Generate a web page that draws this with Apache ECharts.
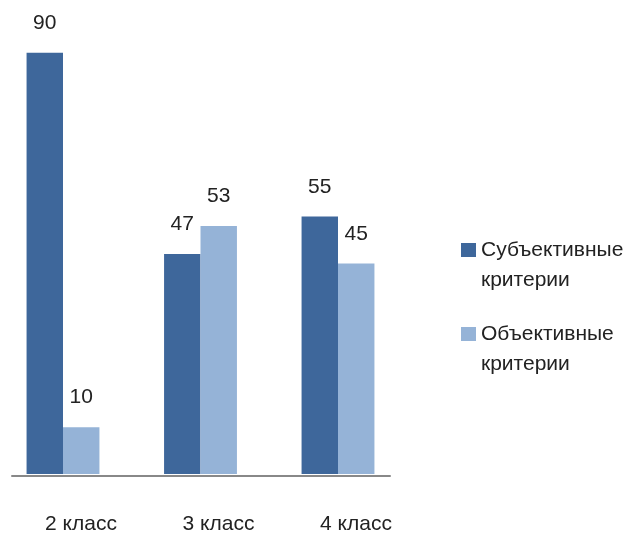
<!DOCTYPE html>
<html><head><meta charset="utf-8">
<script src="https://cdn.jsdelivr.net/npm/echarts@6/dist/echarts.min.js"></script>
<style>html,body{margin:0;padding:0;background:#fff}#c{width:631px;height:535px}</style>
</head><body><div id="c"></div>
<script>
var categories = ['2 класс', '3 класс', '4 класс'];
var seriesNames = ['Субъективные\nкритерии', 'Объективные\nкритерии'];
var subjective = [90, 47, 55];
var objective = [10, 53, 45];

var FONT = '"Liberation Sans", Arial, sans-serif';
var chart = echarts.init(document.getElementById('c'));
chart.setOption({
  animation: false,
  textStyle: {fontFamily: FONT},
  grid: [
    {left: 63, right: 293, top: 6, bottom: 59, containLabel: false},
    {left: 12, right: 241, top: 6, bottom: 59, containLabel: false}
  ],
  legend: {
    orient: 'vertical', left: 456, top: 200,
    itemWidth: 15, itemHeight: 14, itemGap: -6,
    icon: 'rect',
    data: seriesNames,
    formatter: function (n) { return '\n' + n; },
    textStyle: {fontSize: 21, color: '#222', lineHeight: 30, fontFamily: FONT}
  },
  xAxis: [
    {type: 'category', gridIndex: 0, data: categories, boundaryGap: false,
     axisLine: {show: false}, axisTick: {show: false},
     axisLabel: {margin: 40, fontSize: 21, color: '#222', padding: [0, 0, 0, 36], fontFamily: FONT}},
    {type: 'value', gridIndex: 1, min: 0, max: 1,
     axisLine: {show: true, onZero: false, lineStyle: {color: '#888', width: 2}},
     axisTick: {show: false}, axisLabel: {show: false}, splitLine: {show: false}}
  ],
  yAxis: [
    {type: 'value', gridIndex: 0, min: 0, max: 100, show: false, splitLine: {show: false}},
    {type: 'value', gridIndex: 1, min: 0, max: 1, show: false, splitLine: {show: false}}
  ],
  series: [
    {name: seriesNames[0], type: 'bar', data: subjective, barGap: '0%', barCategoryGap: '47%',
     itemStyle: {color: '#3E679B'},
     label: {show: true, position: 'top', distance: 19, fontSize: 21, color: '#222', fontFamily: FONT}},
    {name: seriesNames[1], type: 'bar', data: objective, barGap: '0%', barCategoryGap: '47%',
     itemStyle: {color: '#95B3D7'},
     label: {show: true, position: 'top', distance: 19, fontSize: 21, color: '#222', fontFamily: FONT}}
  ]
});
</script></body></html>
